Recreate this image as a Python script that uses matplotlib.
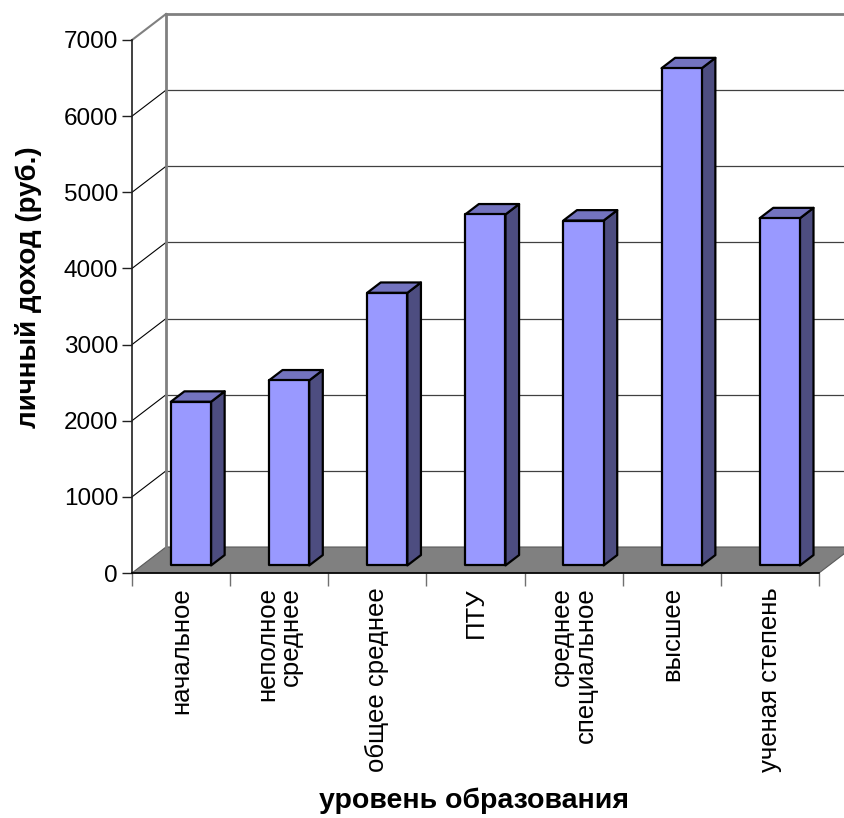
import matplotlib
matplotlib.use('Agg')
import matplotlib.pyplot as plt
from matplotlib.patches import Polygon
import numpy as np

# доход по уровню образования
categories = ['начальное', 'неполное\nсреднее', 'общее среднее', 'ПТУ',
              'среднее\nспециальное', 'высшее', 'ученая степень']
income = [2150, 2430, 3580, 4610, 4530, 6530, 4560]
yticks = [0, 1000, 2000, 3000, 4000, 5000, 6000, 7000]

plt.rcParams['font.family'] = ['Liberation Sans', 'DejaVu Sans']

W, H = 844, 818
fig = plt.figure(figsize=(W / 100, H / 100), dpi=100)
# передняя плоскость графика в пикселях: x 132..819, y 573..40
ax = fig.add_axes([132 / W, 1 - 573 / H, (819 - 132) / W, (573 - 40) / H])
n = len(categories)
ymax = yticks[-1]
ax.set_xlim(0, n)
ax.set_ylim(0, ymax)

# смещение в глубину (псевдо-3D как в Excel)
px_x = (819 - 132) / n
px_y = (573 - 40) / ymax
DX = 34 / px_x
DY = 26 / px_y

# пол
floor = Polygon([(0, 0), (DX, DY), (n + DX, DY), (n, 0)], closed=True,
                fc='#808080', ec='#5a5a5a', lw=0.8, clip_on=False, zorder=1)
ax.add_patch(floor)

# задняя стенка и сетка
for v in yticks[1:-1]:
    ax.plot([0, DX], [v, v + DY], color='black', lw=0.8, clip_on=False, zorder=1)
    ax.plot([DX, n + DX], [v + DY, v + DY], color='#404040', lw=0.9, clip_on=False, zorder=1)
ax.plot([0, DX], [ymax, ymax + DY], color='#808080', lw=1.5, clip_on=False, zorder=1)
ax.plot([DX, n + DX], [ymax + DY, ymax + DY], color='#808080', lw=2, clip_on=False, zorder=1)
ax.plot([DX, DX], [DY, ymax + DY], color='#808080', lw=2, clip_on=False, zorder=1)

# столбцы
w = 0.41
f0, f1 = 0.29, 0.69
ddx = (f1 - f0) * DX
ddy = (f1 - f0) * DY
for i, v in enumerate(income):
    x0 = i + 0.5 - w / 2 + f0 * DX
    x1 = x0 + w
    y0 = f0 * DY
    y1 = y0 + v
    side = Polygon([(x1, y0), (x1 + ddx, y0 + ddy), (x1 + ddx, y1 + ddy), (x1, y1)],
                   fc='#4d4d80', ec='black', lw=1.6, joinstyle='round', zorder=3, clip_on=False)
    top = Polygon([(x0, y1), (x1, y1), (x1 + ddx, y1 + ddy), (x0 + ddx, y1 + ddy)],
                  fc='#7373bf', ec='black', lw=1.6, joinstyle='round', zorder=3, clip_on=False)
    front = Polygon([(x0, y0), (x1, y0), (x1, y1), (x0, y1)],
                    fc='#9999ff', ec='black', lw=1.6, joinstyle='round', zorder=4, clip_on=False)
    ax.add_patch(side)
    ax.add_patch(top)
    ax.add_patch(front)

# оси
ax.spines['top'].set_visible(False)
ax.spines['right'].set_visible(False)
ax.spines['left'].set_color('#202020')
ax.spines['left'].set_linewidth(1.2)
ax.spines['bottom'].set_color('black')
ax.spines['bottom'].set_linewidth(1.2)
ax.spines['left'].set_zorder(2)
ax.spines['bottom'].set_zorder(2)
ax.patch.set_visible(False)

ax.set_yticks(yticks)
ax.set_yticklabels([str(t) for t in yticks])
ax.tick_params(axis='y', direction='out', length=7, width=1, color='#202020',
               labelsize=17.5, pad=3)

ax.set_xticks(np.arange(n + 1))
ax.set_xticklabels([])
ax.tick_params(axis='x', which='major', direction='out', length=9, width=1, color='#707070')
ax.set_xticks(np.arange(n) + 0.5, minor=True)
ax.set_xticklabels(categories, minor=True, rotation=90, va='top', ha='center',
                   multialignment='right', fontsize=18.5, linespacing=1.0)
ax.tick_params(axis='x', which='minor', length=0, pad=10)

ax.set_ylabel('личный доход (руб.)', fontsize=20, fontweight='bold', va='center')
ax.yaxis.set_label_coords(-0.151, 0.537)
ax.set_xlabel('уровень образования', fontsize=20.5, fontweight='bold', va='center')
ax.xaxis.set_label_coords(0.498, -0.428)

fig.savefig('out.png', dpi=100)
